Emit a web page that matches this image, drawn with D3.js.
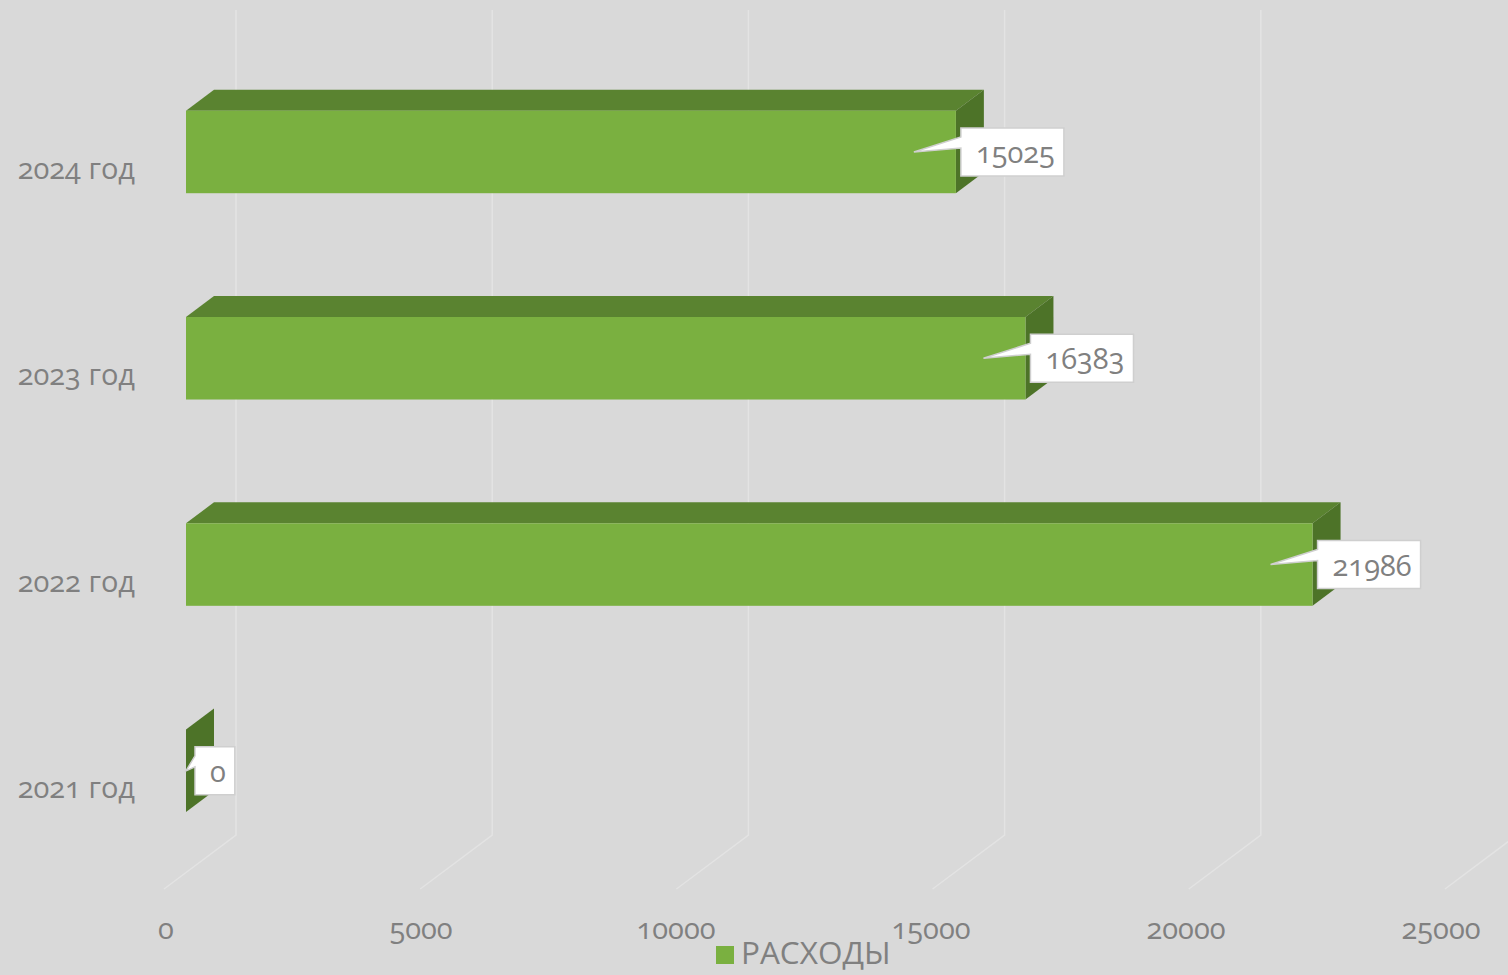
<!DOCTYPE html>
<html><head><meta charset="utf-8">
<script src="https://cdn.jsdelivr.net/npm/d3@7/dist/d3.min.js"></script>
<style>
html,body{margin:0;padding:0;background:#d9d9d9;overflow:hidden}
svg{display:block}
text{font-family:"Open Sans",sans-serif;font-variant-numeric:oldstyle-nums;font-feature-settings:"onum" 1;fill:#808080}
</style></head><body><div id="chart"></div>
<script>
const categories = ["2021 год","2022 год","2023 год","2024 год"];
const expenses = [0,21986,16383,15025];
const seriesName = "РАСХОДЫ";
const tickValues = [0,5000,10000,15000,20000,25000];
const rows = categories.map((c,i)=>({c,v:expenses[i]}));

const W=1508,H=975;
const x=d3.scaleLinear().domain([0,25000]).range([186,1467]);
const xLabel=d3.scaleLinear().domain([0,25000]).range([166,1441]);
const y=d3.scaleBand().domain(categories.slice().reverse()).range([48.8,874]).paddingInner(0.6).paddingOuter(0.3);
const barDepth={dx:28,dy:-21}, gridBack=50, gridFront=-22, gridTop=10, gridBottom=835, floorBottom=889;
const green={front:"#7ab040",top:"#5a8330",side:"#4d7328"};

const svg=d3.select("#chart").append("svg").attr("width",W).attr("height",H);
svg.append("rect").attr("width",W).attr("height",H).attr("fill","#d9d9d9");

const grid=svg.append("g").attr("fill","none").attr("stroke","#e3e3e3").attr("stroke-width",1.5);
grid.selectAll("path").data(tickValues).join("path")
  .attr("d",t=>d3.line()([[x(t)+gridBack,gridTop],[x(t)+gridBack,gridBottom],[x(t)+gridFront,floorBottom]]));

const axis=svg.append("g");
axis.selectAll("text").data(tickValues).join("text")
  .attr("x",t=>xLabel(t)).attr("y",939).attr("text-anchor","middle").attr("font-size",29).text(t=>t);

const cats=svg.append("g");
cats.selectAll("text").data(categories).join("text")
  .attr("x",135).attr("y",c=>y(c)+y.bandwidth()/2+27).attr("text-anchor","end").attr("font-size",29).text(c=>c);

const line=d3.line();
const bars=svg.append("g").selectAll("g").data(rows).join("g");
bars.append("path").attr("fill",green.top).attr("d",d=>{const t=y(d.c),a=x(0),b=x(d.v);
  return line([[a,t],[b,t],[b+barDepth.dx,t+barDepth.dy],[a+barDepth.dx,t+barDepth.dy]])+"Z";});
bars.append("path").attr("fill",green.side).attr("d",d=>{const t=y(d.c),h=y.bandwidth(),b=x(d.v);
  return line([[b,t],[b+barDepth.dx,t+barDepth.dy],[b+barDepth.dx,t+h+barDepth.dy],[b,t+h]])+"Z";});
bars.append("rect").attr("fill",green.front).attr("x",x(0)).attr("y",d=>y(d.c))
  .attr("width",d=>x(d.v)-x(0)).attr("height",y.bandwidth());

const labels=svg.append("g").selectAll("g").data(rows).join("g");
labels.each(function(d){
  const g=d3.select(this), cy=y(d.c)+y.bandwidth()/2;
  const left=x(d.v)+(d.v===0?9:5), boxH=48, top=cy-24;
  const tipX=Math.max(x(0),x(d.v)-42);
  const txt=g.append("text").attr("font-size",29).attr("y",cy+11).attr("x",left+15).text(d.v);
  const w=txt.node().getComputedTextLength()+24;
  g.insert("path","text").attr("fill","#fff").attr("stroke","#cfcfcf").attr("stroke-width",1.5)
   .attr("d",line([[left,top],[left+w,top],[left+w,top+boxH],[left,top+boxH],[left,top+20],[tipX,cy],[left,top+9]])+"Z");
});

const legend=svg.append("g");
legend.append("rect").attr("x",716).attr("y",946).attr("width",18).attr("height",18).attr("fill",green.front);
legend.append("text").attr("x",741).attr("y",964).attr("font-size",31.5).text(seriesName);
</script></body></html>
